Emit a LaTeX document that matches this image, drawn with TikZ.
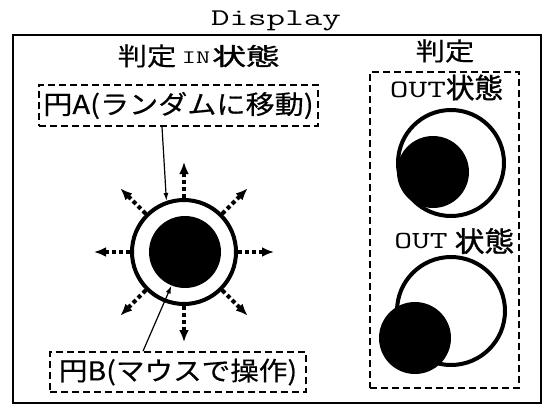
\documentclass[tikz,border=0pt]{standalone}
\usepackage{fontspec}
\usepackage{graphicx}
\setmainfont{Noto Sans CJK JP}
\newfontfamily\cjkm{Noto Sans CJK JP}[FakeBold=1.2]
\newfontfamily\cjkr{Noto Sans CJK JP}[FakeBold=0.4]
\usetikzlibrary{arrows.meta,calc}
\newcommand{\sx}[2]{\scalebox{#1}[1]{#2}}
\newcommand{\fs}[1]{\fontsize{#1}{#1}\selectfont}
\tikzset{
  txt/.style={inner sep=0pt, outer sep=0pt},
  frame/.style={draw, line width=2.5pt, inner sep=0pt},
  dbox/.style={draw, line width=1.7pt, dash pattern=on 7pt off 4pt, inner sep=0pt},
  ringc/.style={circle, draw, line width=4pt, inner sep=0pt},
  diskc/.style={circle, fill=black, inner sep=0pt, minimum size=72pt},
  dotarrow/.style={line width=4pt, dash pattern=on 4pt off 3pt, -{Latex[length=12pt,width=10pt]}},
  thinarrow/.style={line width=1.2pt, -{Latex[length=8pt,width=5pt]}}
}
\begin{document}
\begin{tikzpicture}[x=1pt,y=-1pt]
\useasboundingbox (0,0) rectangle (542,407);
% title and frame
\node[txt, anchor=base] (title) at (276,25) {\ttfamily\fs{24}\sx{1.5}{Display}};
\node[frame, minimum width=528pt, minimum height=368pt] (display) at (277,219) {};
% left heading
\node[txt] (hj1) at (147,56) {\cjkr\fs{25}\sx{1.17}{判定}};
\node[txt, anchor=base] (hin) at (196,63) {\ttfamily\fs{19}\sx{1.45}{IN}};
\node[txt] (hst1) at (246,56) {\cjkm\fs{24}\sx{1.4}{状態}};
% box A
\node[dbox, minimum width=279pt, minimum height=41pt] (boxA) at (178.5,105.5) {\cjkr\fs{26}\sx{1.12}{円A(ランダムに移動)}};
% main circle
\node[ringc, minimum size=104pt] (ring) at (184,252) {};
\node[diskc] (diskB) at (185,252) {};
\foreach \a in {0,45,...,315}{
  \draw[dotarrow] (ring.\a) -- ($(ring.center)!90pt!(ring.\a)$);
}
\draw[thinarrow] ([xshift=-16.5pt]boxA.south) -- (ring.109);
% box B
\node[dbox, minimum width=256pt, minimum height=40pt] (boxB) at (178,372) {\cjkr\fs{26}\sx{1.1}{円B(マウスで操作)}};
\draw[thinarrow] ([xshift=-35pt]boxB.north) -- (diskB.248);
% right part
\node[txt] (hj2) at (445,51) {\cjkr\fs{25}\sx{1.17}{判定}};
\node[dbox, minimum width=149pt, minimum height=316pt] (outbox) at (444.5,230) {};
\node[txt, anchor=base] (out1) at (418,97) {\ttfamily\fs{25}\sx{1.45}{OUT}};
\node[txt] (st1) at (474.5,87.5) {\cjkm\fs{28}\sx{1.02}{状態}};
\node[ringc, minimum size=106pt] (ring1) at (451,163) {};
\node[diskc] (disk1) at (433,172) {};
\node[txt, anchor=base] (out2) at (421,248) {\ttfamily\fs{24.5}\sx{1.41}{OUT}};
\node[txt] (st2) at (484.5,241) {\cjkm\fs{28}\sx{1.06}{状態}};
\node[ringc, minimum size=108pt] (ring2) at (451,311) {};
\node[diskc] (disk2) at (415,338) {};
\end{tikzpicture}
\end{document}
